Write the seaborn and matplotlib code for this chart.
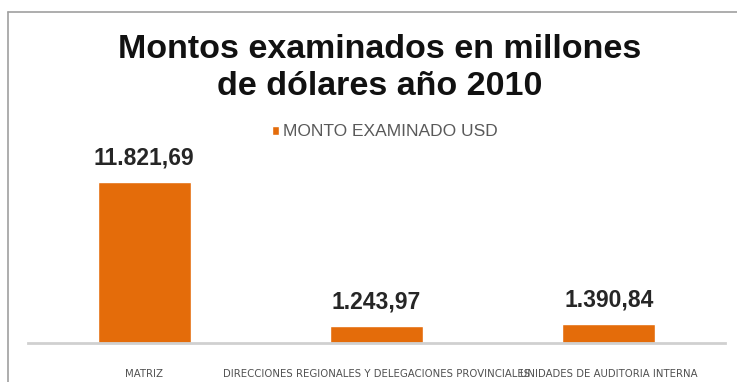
import matplotlib
matplotlib.use("Agg")
import matplotlib.pyplot as plt
from matplotlib.lines import Line2D
from matplotlib.patches import Patch
import seaborn as sns
import pandas as pd

categorias = ["MATRIZ",
              "DIRECCIONES REGIONALES Y DELEGACIONES PROVINCIALES",
              "UNIDADES DE AUDITORIA INTERNA"]
montos = [11821.69, 1243.97, 1390.84]
serie = "MONTO EXAMINADO USD"
titulo = "Montos examinados en millones\nde dólares año 2010"

naranja = "#E46C0A"

df = pd.DataFrame({"categoria": categorias, "monto": montos, "serie": serie})

sns.set_theme(style="white")
plt.rcParams["font.family"] = ["Liberation Sans", "DejaVu Sans"]

fig = plt.figure(figsize=(7.37, 3.82), dpi=100)
ax = fig.add_axes([28 / 737, 1 - 343 / 382, 697 / 737, 204 / 382])

sns.barplot(data=df, x="categoria", y="monto", color=naranja, width=0.4,
            ax=ax, saturation=1, legend=False)

ax.set_xlim(-0.5, 2.5)
ax.set_ylim(0, 15000)
ax.set_xlabel("")
ax.set_ylabel("")
ax.set_yticks([])
for side in ("left", "right", "top"):
    ax.spines[side].set_visible(False)
ax.spines["bottom"].set_color("#D0D0D0")
ax.spines["bottom"].set_linewidth(2)
ax.tick_params(axis="x", length=0, pad=19)
for lbl in ax.get_xticklabels():
    lbl.set_fontfamily("DejaVu Sans")
    lbl.set_fontsize(7.3)
    lbl.set_color("#505050")

def formato_es(v):
    s = f"{v:,.2f}"
    return s.replace(",", "X").replace(".", ",").replace("X", ".")

for i, v in enumerate(montos):
    ax.annotate(formato_es(v), (i, v), xytext=(0, 9), textcoords="offset points",
                ha="center", va="bottom", fontsize=16.5, fontweight="bold",
                color="#262626")

fig.text(380 / 737, 1 - 68 / 382, titulo, ha="center", va="center",
         fontsize=24.5, fontweight="bold", color="#111111", linespacing=1.25)

leg = fig.legend(handles=[Patch(facecolor=naranja, label=serie)],
                 loc="center", bbox_to_anchor=(385 / 737, 1 - 132 / 382),
                 frameon=False, fontsize=12.5, handlelength=0.4, handleheight=0.4,
                 handletextpad=0.2)
for t in leg.get_texts():
    t.set_color("#595959")

# thin frame around the chart area (left and top edges)
fig.add_artist(Line2D([8 / 737, 8 / 737], [0, 1 - 12 / 382],
                      transform=fig.transFigure, color="#A0A0A0", lw=1.2))
fig.add_artist(Line2D([8 / 737, 1], [1 - 12 / 382, 1 - 12 / 382],
                      transform=fig.transFigure, color="#A0A0A0", lw=1.2))

fig.savefig("out.png", dpi=100, facecolor="white")
